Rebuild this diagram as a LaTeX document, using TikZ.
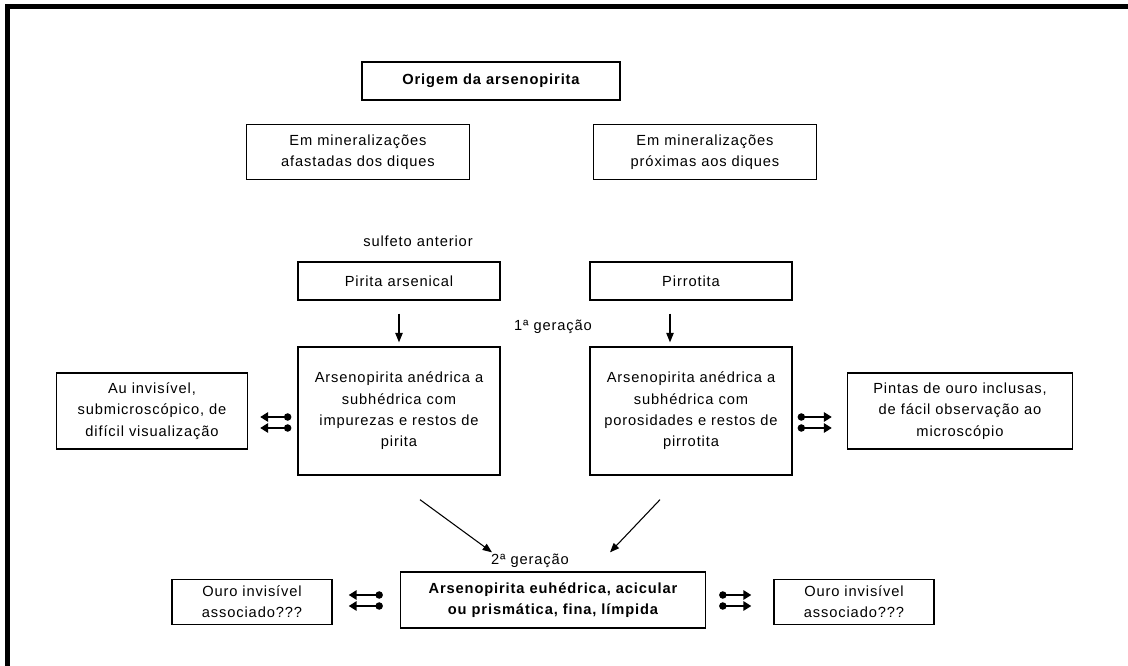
\documentclass[tikz,border=0pt]{standalone}
\usepackage{fontspec}
\setmainfont{Liberation Sans}[LetterSpace=6]
\usetikzlibrary{arrows.meta}
\begin{document}
\begin{tikzpicture}[x=0.75pt,y=-0.75pt,
  every node/.style={font=\fontsize{11}{16}\selectfont},
  bold/.style={font=\fontsize{11}{15.5}\selectfont\bfseries},
  box/.style={draw, line width=1pt, align=center, inner sep=0pt},
  arr/.style={line width=0.8pt, -{Triangle[length=7pt,width=5.5pt]}},
  sym/.style={line width=1.6pt, {Circle[length=5.5pt]}-{Triangle[length=6pt,width=7pt]}}]
\useasboundingbox (0,0) rectangle (1128,666);
\fill[white] (0,0) rectangle (1128,666);
% frame on the left and top
\draw[line width=3.75pt] (7,666) -- (7,7) -- (1128,7);

% title and the two settings
\node[box, bold, minimum width=193.5pt, minimum height=28.5pt] (orig) at (491,81) {Origem da arsenopirita};
\node[box, minimum width=167.25pt, minimum height=41.25pt] (afa) at (358,152) {Em mineralizações\\afastadas dos diques};
\node[box, minimum width=167.25pt, minimum height=41.25pt] (pro) at (705,152) {Em mineralizações\\próximas aos diques};

% earlier sulphides
\node (sulf) at (418,241) {sulfeto anterior};
\node[box, minimum width=151.5pt, minimum height=28.5pt] (pir) at (399,281) {Pirita arsenical};
\node[box, minimum width=151.5pt, minimum height=28.5pt] (pirr) at (691,281) {Pirrotita};

% first generation
\node (g1) at (553,327) {1ª geração};
\node[box, minimum width=151.5pt, minimum height=96pt] (apa) at (399,411) {Arsenopirita anédrica a\\subhédrica com\\impurezas e restos de\\pirita};
\node[box, minimum width=151.5pt, minimum height=96pt] (apb) at (691,411) {Arsenopirita anédrica a\\subhédrica com\\porosidades e restos de\\pirrotita};
\node[box, minimum width=143.25pt, minimum height=57pt] (au) at (152,411) {Au invisível,\\submicroscópico, de\\difícil visualização};
\node[box, minimum width=168.75pt, minimum height=57pt] (pin) at (960,411) {Pintas de ouro inclusas,\\de fácil observação ao\\microscópio};

% second generation
\node (g2) at (530,561) {2ª geração};
\node[box, bold, minimum width=228.75pt, minimum height=42pt] (eu) at (553,600) {Arsenopirita euhédrica, acicular\\ou prismática, fina, límpida};
\node[box, minimum width=120pt, minimum height=33.75pt] (ol) at (252,602) {Ouro invisível\\associado???};
\node[box, minimum width=120pt, minimum height=33.75pt] (or) at (854,602) {Ouro invisível\\associado???};

% replacement arrows
\draw[arr, shorten <=9.75pt, shorten >=3pt] (pir.south) -- ([yshift=0pt]pir.south |- apa.north);
\draw[arr, shorten <=9.75pt, shorten >=3pt] ([xshift=-15.75pt]pirr.south) -- ([xshift=-15.75pt]apb.north);
\draw[arr] ([shift={(21,24)}]apa.south) -- ([shift={(-61,-19)}]eu.north);
\draw[arr] ([shift={(-31,24)}]apb.south) -- ([shift={(57,-19)}]eu.north);

% gold associations
\draw[sym] ([shift={(-6,6)}]apa.west) -- ([shift={(12,6)}]au.east);
\draw[sym] ([shift={(-6,17)}]apa.west) -- ([shift={(12,17)}]au.east);
\draw[sym] ([shift={(5,6)}]apb.east) -- ([shift={(-15,6)}]pin.west);
\draw[sym] ([shift={(5,17)}]apb.east) -- ([shift={(-15,17)}]pin.west);
\draw[sym] ([shift={(-17,-5)}]eu.west) -- ([shift={(16,-7)}]ol.east);
\draw[sym] ([shift={(-17,6)}]eu.west) -- ([shift={(16,4)}]ol.east);
\draw[sym] ([shift={(13,-5)}]eu.east) -- ([shift={(-22,-7)}]or.west);
\draw[sym] ([shift={(13,6)}]eu.east) -- ([shift={(-22,4)}]or.west);
\end{tikzpicture}
\end{document}
